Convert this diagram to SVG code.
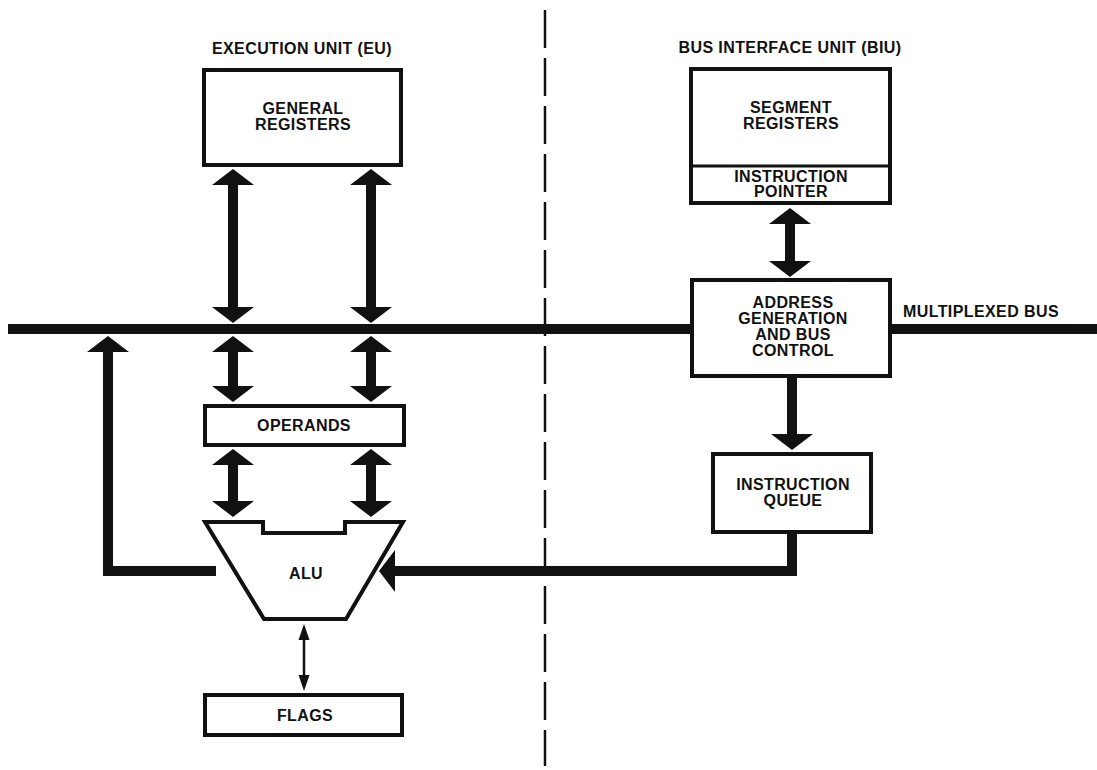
<svg xmlns="http://www.w3.org/2000/svg" width="1097" height="770" viewBox="0 0 1097 770">
<defs>
<style>
.t{font-family:"Liberation Sans",Arial,sans-serif;font-weight:bold;font-size:16px;letter-spacing:0.4px;fill:#111;text-anchor:middle}
.box{fill:#fff;stroke:#111;stroke-width:4}
.fat{fill:none;stroke:#111;stroke-width:10;stroke-linejoin:miter}
.thin{fill:none;stroke:#111;stroke-width:2.5}
</style>
<marker id="ah" markerUnits="userSpaceOnUse" markerWidth="16" markerHeight="42" viewBox="0 0 16 42" refX="0" refY="21" orient="auto-start-reverse" overflow="visible">
<path d="M0,0 L16,21 L0,42 Z" fill="#111"/>
</marker>
<marker id="ahs" markerUnits="userSpaceOnUse" markerWidth="16" markerHeight="11" viewBox="0 0 16 11" refX="0" refY="5.5" orient="auto-start-reverse" overflow="visible">
<path d="M0,0 L16,5.5 L0,11 Z" fill="#111"/>
</marker>
</defs>
<rect width="1097" height="770" fill="#fff"/>

<g id="divider">
<line x1="545" y1="10" x2="545" y2="766" stroke="#111" stroke-width="2.5" stroke-dasharray="38 10"/>
</g>

<g id="titles">
<text class="t" x="302" y="54">EXECUTION UNIT (EU)</text>
<text class="t" x="790" y="53">BUS INTERFACE UNIT (BIU)</text>
</g>

<g id="bus">
<line x1="8" y1="329" x2="1097" y2="329" stroke="#111" stroke-width="10"/>
<text class="t" x="981" y="317">MULTIPLEXED BUS</text>
</g>

<g id="connectors">
<line class="fat" x1="233" y1="185" x2="233" y2="307" marker-start="url(#ah)" marker-end="url(#ah)"/>
<line class="fat" x1="371" y1="185" x2="371" y2="307" marker-start="url(#ah)" marker-end="url(#ah)"/>
<line class="fat" x1="233" y1="352" x2="233" y2="386" marker-start="url(#ah)" marker-end="url(#ah)"/>
<line class="fat" x1="371" y1="352" x2="371" y2="386" marker-start="url(#ah)" marker-end="url(#ah)"/>
<line class="fat" x1="233" y1="465" x2="233" y2="501" marker-start="url(#ah)" marker-end="url(#ah)"/>
<line class="fat" x1="371" y1="465" x2="371" y2="501" marker-start="url(#ah)" marker-end="url(#ah)"/>
<line class="fat" x1="790" y1="224" x2="790" y2="261" marker-start="url(#ah)" marker-end="url(#ah)"/>
<line class="fat" x1="792" y1="378" x2="792" y2="434" marker-end="url(#ah)"/>
<polyline class="fat" points="792,533 792,571 395,571" marker-end="url(#ah)"/>
<polyline class="fat" points="216,571 108,571 108,352" marker-end="url(#ah)"/>
<line class="thin" x1="304" y1="640" x2="304" y2="675" marker-start="url(#ahs)" marker-end="url(#ahs)"/>
</g>

<g id="general-registers">
<rect class="box" x="204" y="70" width="197" height="95"/>
<text class="t" x="303" y="114">GENERAL</text>
<text class="t" x="303" y="130">REGISTERS</text>
</g>

<g id="operands">
<rect class="box" x="205" y="406" width="199" height="39"/>
<text class="t" x="304" y="431">OPERANDS</text>
</g>

<g id="alu">
<path class="box" d="M205,522 L263,522 L263,533 L345,533 L345,522 L403,522 L346,619 L264,619 Z" stroke-linejoin="miter"/>
<text class="t" x="306" y="579">ALU</text>
</g>

<g id="flags">
<rect class="box" x="205" y="695" width="197" height="40"/>
<text class="t" x="305" y="721">FLAGS</text>
</g>

<g id="segment-registers">
<rect class="box" x="691" y="69" width="199" height="134"/>
<line x1="691" y1="166" x2="890" y2="166" stroke="#111" stroke-width="3"/>
<text class="t" x="791" y="113">SEGMENT</text>
<text class="t" x="791" y="129">REGISTERS</text>
<text class="t" x="791" y="182">INSTRUCTION</text>
<text class="t" x="791" y="197">POINTER</text>
</g>

<g id="address-generation">
<rect class="box" x="692" y="280" width="198" height="96"/>
<text class="t" x="793" y="308">ADDRESS</text>
<text class="t" x="793" y="324">GENERATION</text>
<text class="t" x="793" y="340">AND BUS</text>
<text class="t" x="793" y="356">CONTROL</text>
</g>

<g id="instruction-queue">
<rect class="box" x="713" y="454" width="158" height="78"/>
<text class="t" x="793" y="490">INSTRUCTION</text>
<text class="t" x="793" y="506">QUEUE</text>
</g>
</svg>
